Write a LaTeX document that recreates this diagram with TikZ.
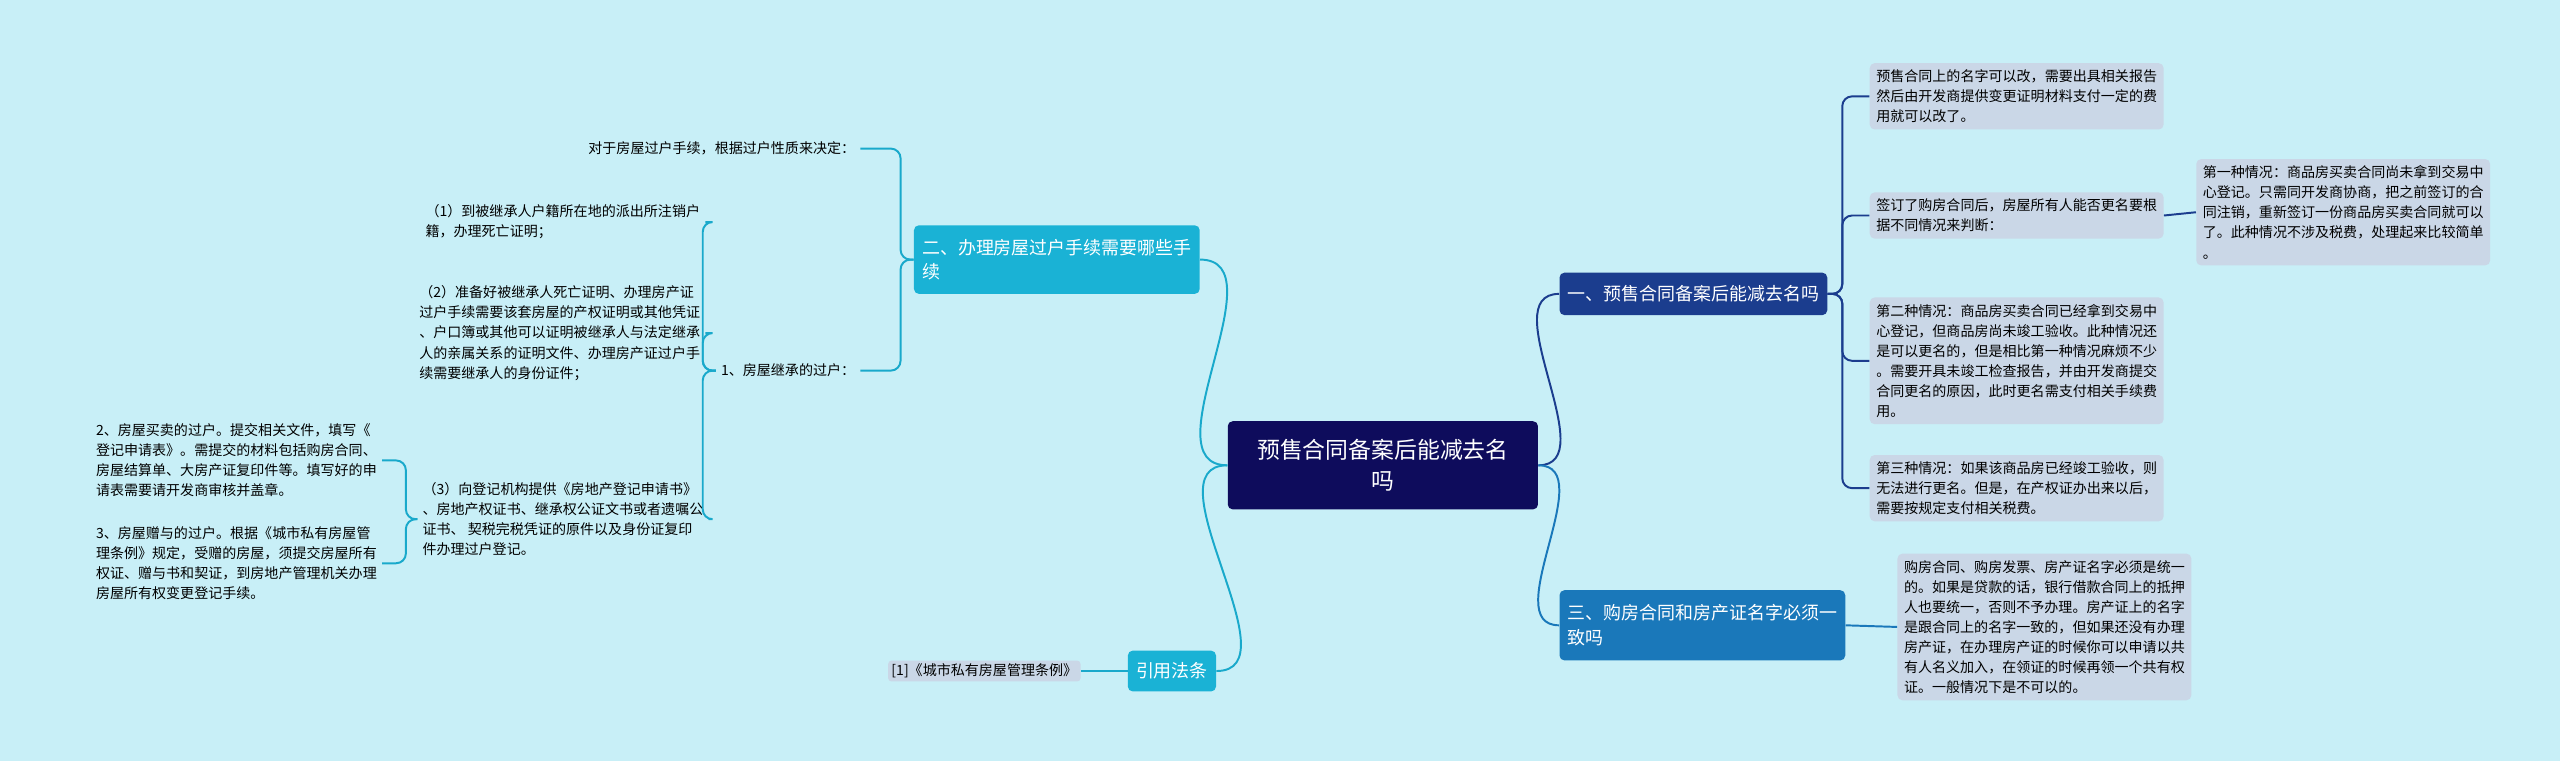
\documentclass[tikz,border=0pt]{standalone}
\usepackage{fontspec}
\setmainfont{Noto Sans CJK SC}
\usetikzlibrary{positioning}
\definecolor{bgc}{HTML}{C8EFF7}
\definecolor{leafc}{HTML}{CAD7E7}
\definecolor{rootc}{HTML}{0E0C5C}
\definecolor{navyc}{HTML}{1B3D8E}
\definecolor{bluec}{HTML}{1A78BA}
\definecolor{cyanc}{HTML}{1AB2D5}
\definecolor{linkc}{HTML}{19A9CB}
\tikzset{
  small/.style={font=\fontsize{8.6}{12.3}\selectfont, align=left, inner sep=3pt},
  leaf/.style={small, fill=leafc, rounded corners=3pt, inner sep=4pt, anchor=west},
  plain/.style={small, anchor=east},
  topic/.style={rounded corners=3pt, text=white, align=left, font=\fontsize{11}{15}\selectfont, inner sep=5pt},
  link/.style={line width=1.2pt, rounded corners=6pt}
}
\begin{document}
\begin{tikzpicture}[x=1pt,y=-1pt]
  \fill[bgc] (0,0) rectangle (1568,466);
  \useasboundingbox (0,0) rectangle (1568,466);
  % centre
  \node[topic, fill=rootc, minimum width=190pt, minimum height=54pt, align=center,
        font=\fontsize{14}{19}\selectfont] (root) at (847,285) {预售合同备案后能减去名\\吗};
  % right side
  \node[topic, fill=navyc, anchor=west, minimum height=26pt] (one) at (955,180) {一、预售合同备案后能减去名吗};
  \node[topic, fill=bluec, anchor=west, minimum height=43pt] (three) at (955,383) {三、购房合同和房产证名字必须一\\致吗};
  \node[leaf] (r1) at (1145,59) {预售合同上的名字可以改，需要出具相关报告\\然后由开发商提供变更证明材料支付一定的费\\用就可以改了。};
  \node[leaf] (r2) at (1145,132) {签订了购房合同后，房屋所有人能否更名要根\\据不同情况来判断：};
  \node[leaf] (r2a) at (1345,130) {第一种情况：商品房买卖合同尚未拿到交易中\\心登记。只需同开发商协商，把之前签订的合\\同注销，重新签订一份商品房买卖合同就可以\\了。此种情况不涉及税费，处理起来比较简单\\。};
  \node[leaf] (r3) at (1145,221) {第二种情况：商品房买卖合同已经拿到交易中\\心登记，但商品房尚未竣工验收。此种情况还\\是可以更名的，但是相比第一种情况麻烦不少\\。需要开具未竣工检查报告，并由开发商提交\\合同更名的原因，此时更名需支付相关手续费\\用。};
  \node[leaf] (r4) at (1145,299) {第三种情况：如果该商品房已经竣工验收，则\\无法进行更名。但是，在产权证办出来以后，\\需要按规定支付相关税费。};
  \node[leaf] (r5) at (1162,384) {购房合同、购房发票、房产证名字必须是统一\\的。如果是贷款的话，银行借款合同上的抵押\\人也要统一，否则不予办理。房产证上的名字\\是跟合同上的名字一致的，但如果还没有办理\\房产证，在办理房产证的时候你可以申请以共\\有人名义加入，在领证的时候再领一个共有权\\证。一般情况下是不可以的。};
  \draw[link, navyc] (root.east) to[out=0, in=180] (one.west);
  \draw[link, bluec] (root.east) to[out=0, in=180] (three.west);
  \foreach \n in {r1,r2,r3,r4}{
    \draw[link, navyc] (one.east) -- ++(9,0) |- (\n.west);
  }
  \draw[link, navyc] (r2.east) -- (r2a.west);
  \draw[link, bluec] (three.east) -- (r5.west);
  % left side
  \node[topic, fill=cyanc, anchor=east, minimum height=42pt] (two) at (735,159) {二、办理房屋过户手续需要哪些手\\续};
  \node[topic, fill=cyanc, anchor=east, minimum height=25pt] (cite) at (745,411) {引用法条};
  \node[plain] (rule) at (527,91) {对于房屋过户手续，根据过户性质来决定：};
  \node[plain] (inherit) at (527,227) {1、房屋继承的过户：};
  \node[plain] (s1) at (432,136) {（1）到被继承人户籍所在地的派出所注销户\\籍，办理死亡证明；};
  \node[plain] (s2) at (432,204) {（2）准备好被继承人死亡证明、办理房产证\\过户手续需要该套房屋的产权证明或其他凭证\\、户口簿或其他可以证明被继承人与法定继承\\人的亲属关系的证明文件、办理房产证过户手\\续需要继承人的身份证件；};
  \node[plain] (s3) at (434,318) {（3）向登记机构提供《房地产登记申请书》\\、房地产权证书、继承权公证文书或者遗嘱公\\证书、 契税完税凭证的原件以及身份证复印\\件办理过户登记。};
  \node[plain] (sale) at (234,282) {2、房屋买卖的过户。提交相关文件，填写《\\登记申请表》。需提交的材料包括购房合同、\\房屋结算单、大房产证复印件等。填写好的申\\请表需要请开发商审核并盖章。};
  \node[plain] (gift) at (234,345) {3、房屋赠与的过户。根据《城市私有房屋管\\理条例》规定，受赠的房屋，须提交房屋所有\\权证、赠与书和契证，到房地产管理机关办理\\房屋所有权变更登记手续。};
  \node[small, fill=leafc, rounded corners=2pt, anchor=east, inner sep=2pt] (law) at (662,411) {[1]《城市私有房屋管理条例》};
  \draw[link, linkc] (root.west) to[out=180, in=0] (two.east);
  \draw[link, linkc] (root.west) to[out=180, in=0] (cite.east);
  \foreach \n in {rule,inherit}{
    \draw[link, linkc] (two.west) -- ++(-8,0) |- (\n.east);
  }
  \foreach \n in {s1,s2,s3}{
    \draw[link, linkc] (inherit.west) -- ++(-8,0) |- (\n.east);
  }
  \foreach \n in {sale,gift}{
    \draw[link, linkc] (s3.west) -- ++(-7,0) |- (\n.east);
  }
  \draw[link, linkc] (cite.west) -- (law.east);
\end{tikzpicture}
\end{document}
